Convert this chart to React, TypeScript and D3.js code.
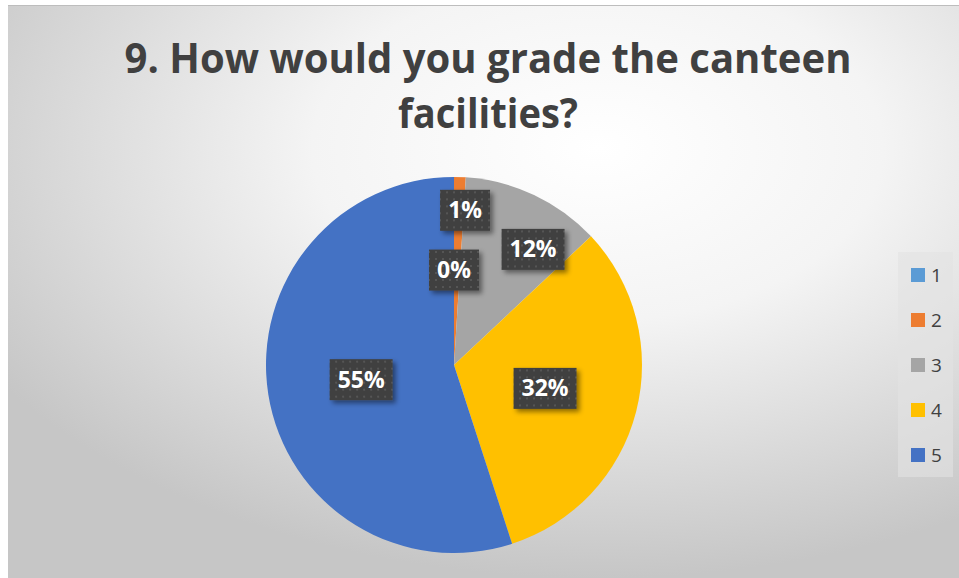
import React from "react";
import * as d3 from "d3";

const categories = ["1", "2", "3", "4", "5"];
const values = [0, 1, 12, 32, 55];
const colors = ["#5B9BD5", "#ED7D31", "#A5A5A5", "#FFC000", "#4472C4"];
const titleLines = ["9. How would you grade the canteen", "facilities?"];

const W = 959;
const H = 578;
const cx = 454;
const cy = 365;
const R = 188;
// radius factor for label placement per slice index (best-fit style)
const labelRadius = [0.505, 0.825, 0.745, 0.5, 0.5];
const labelAngleShift = [0, 0.04, 0.16, 0, 0];

export default function App() {
  const total = d3.sum(values);
  const pie = d3.pie<number>().value((d) => d).sort(null).startAngle(0).endAngle(2 * Math.PI);
  const arcs = pie(values);
  const arcGen = d3.arc<d3.PieArcDatum<number>>().innerRadius(0).outerRadius(R);
  const fmt = (v: number) => `${Math.round((v / total) * 100)}%`;

  const legendY = d3.scalePoint<string>().domain(categories).range([275, 455]);

  return (
    <svg width={W} height={H} style={{ position: "absolute", left: 0, top: 0 }}>
      <defs>
        <radialGradient id="bg" cx="0.62" cy="0.25" r="0.75" gradientUnits="objectBoundingBox">
          <stop offset="0" stopColor="#ffffff" />
          <stop offset="0.4" stopColor="#f4f4f4" />
          <stop offset="1" stopColor="#c6c6c6" />
        </radialGradient>
        <pattern id="dots" width="7" height="7" patternUnits="userSpaceOnUse">
          <rect width="7" height="7" fill="#404040" />
          <rect x="2" y="2" width="2" height="2" fill="#555555" />
        </pattern>
        <filter id="shadow" x="-30%" y="-30%" width="170%" height="170%">
          <feDropShadow dx="3" dy="3" stdDeviation="2.5" floodColor="#000" floodOpacity="0.45" />
        </filter>
      </defs>
      <rect x={0} y={0} width={W} height={H} fill="#ffffff" />
      <rect x={8} y={5} width={W - 8} height={H - 5} fill="url(#bg)" />
      <line x1={8} x2={W} y1={5.5} y2={5.5} stroke="#bdbdbd" strokeWidth={1} />

      {titleLines.map((t, i) => (
        <text
          key={i}
          x={488}
          y={73 + i * 55}
          textAnchor="middle"
          fontFamily="'Open Sans', sans-serif"
          fontWeight={700}
          fontSize={41}
          fill="#404040"
          textLength={i === 0 ? 727 : 180}
          lengthAdjust="spacingAndGlyphs"
        >
          {t}
        </text>
      ))}

      <g transform={`translate(${cx},${cy})`}>
        {arcs.map((a, i) => (
          <path key={i} d={arcGen(a) || ""} fill={colors[i]} />
        ))}
        {arcs.map((a, i) => {
          const mid = (a.startAngle + a.endAngle) / 2 + labelAngleShift[i];
          const r = R * labelRadius[i];
          const x = Math.sin(mid) * r;
          const y = -Math.cos(mid) * r;
          const label = fmt(a.value);
          const w = label.length === 2 ? 50 : 63;
          const h = 41;
          return (
            <g key={"l" + i} transform={`translate(${x},${y})`}>
              <rect x={-w / 2} y={-h / 2} width={w} height={h} fill="url(#dots)" filter="url(#shadow)" />
              <text
                x={0}
                y={8}
                textAnchor="middle"
                fontFamily="'Open Sans', sans-serif"
                fontWeight={700}
                fontSize={23}
                fill="#ffffff"
              >
                {label}
              </text>
            </g>
          );
        })}
      </g>

      <rect x={898} y={252} width={55} height={225} fill="#e3e3e3" opacity={0.6} />
      {categories.map((c, i) => (
        <g key={c}>
          <rect x={911} y={(legendY(c) as number) - 7} width={14} height={14} fill={colors[i]} />
          <text
            x={931}
            y={(legendY(c) as number) + 7}
            fontFamily="'Open Sans', sans-serif"
            fontSize={19}
            fill="#404040"
          >
            {c}
          </text>
        </g>
      ))}
    </svg>
  );
}
